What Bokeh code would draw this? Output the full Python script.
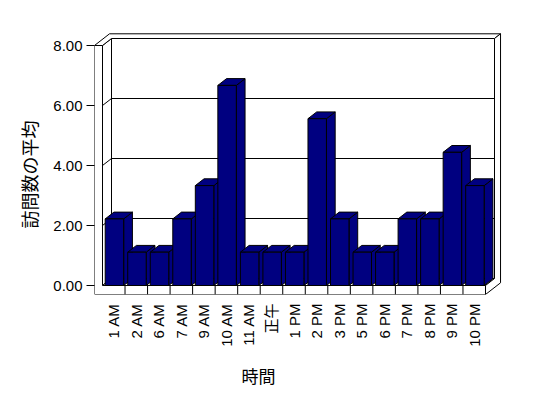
import math
from bokeh.plotting import figure
from bokeh.models import Range1d, FixedTicker, NumeralTickFormatter, Title
from bokeh.embed import file_html
from bokeh.resources import INLINE

# ---------------- data ----------------
categories = ["1 AM", "2 AM", "6 AM", "7 AM", "9 AM", "10 AM", "11 AM", "正午",
              "1 PM", "2 PM", "3 PM", "5 PM", "6 PM", "7 PM", "8 PM", "9 PM", "10 PM"]
visits = [2.22, 1.11, 1.11, 2.22, 3.33, 6.67, 1.11, 1.11, 1.11,
          5.56, 2.22, 1.11, 1.11, 2.22, 2.22, 4.44, 3.33]
y_ticks = [0, 2, 4, 6, 8]
y_title = "訪問数の平均"
x_title = "時間"

# ---------------- layout / style constants ----------------
CAT_PX = 22.53        # pixels per category
UNIT_PX = 30.0        # pixels per value unit
DEPTH_PX = (9.0, 7.0) # oblique depth offset of the box
BACK_T = 0.67         # back wall thickness (fraction of depth)
WALL_PX = 8.0         # left wall thickness
FLOOR_PX = 9.0        # floor thickness
BAR_OFF = 0.12
BAR_W = 0.82
BAR_D = 0.97
Y_MAX = 8.0
LEFT, TOP, RIGHT = 94, 31, 30
FRAME_W, FRAME_H = 408, 263
BAR_COLOR = "#000080"
FONT = "Liberation Sans, Noto Sans CJK JP"
CJK = "Noto Sans CJK JP"

N = len(categories)
DX = DEPTH_PX[0] / CAT_PX
DY = DEPTH_PX[1] / UNIT_PX
WT = WALL_PX / CAT_PX
FT = FLOOR_PX / UNIT_PX

x_start = -WT
y_start = -FT
p = figure(frame_width=FRAME_W, frame_height=FRAME_H,
           output_backend="svg", toolbar_location=None,
           x_range=Range1d(x_start, x_start + FRAME_W / CAT_PX),
           y_range=Range1d(y_start, y_start + FRAME_H / UNIT_PX),
           min_border_left=LEFT, min_border_right=RIGHT,
           min_border_top=TOP, min_border_bottom=60)
p.outline_line_color = None
p.xgrid.visible = False
p.ygrid.visible = False
p.background_fill_color = "white"
p.border_fill_color = "white"


def P(x, y, z):
    return (x + z * DX, y + z * DY)


def add(points, xs, ys):
    xs.append([pt[0] for pt in points])
    ys.append([pt[1] for pt in points])


zb = 1 + BACK_T
# back wall inner face + left wall inner face
box_xs, box_ys = [], []
add([P(0, 0, 1), P(N, 0, 1), P(N, Y_MAX, 1), P(0, Y_MAX, 1)], box_xs, box_ys)
add([P(0, 0, 0), P(0, 0, 1), P(0, Y_MAX, 1), P(0, Y_MAX, 0)], box_xs, box_ys)
p.patches(box_xs, box_ys, fill_color="white", line_color="black", line_width=1, line_join="miter")

# gridlines on walls
gx, gy = [], []
for v in y_ticks[1:-1]:
    add([P(0, v, 0), P(0, v, 1), P(N, v, 1)], gx, gy)
p.multi_line(gx, gy, line_color="black", line_width=1)

# floor top
fx, fy = [], []
add([P(0, 0, 0), P(N, 0, 0), P(N, 0, 1), P(0, 0, 1)], fx, fy)
p.patches(fx, fy, fill_color="white", line_color="black", line_width=1, line_join="miter")

# bars, painted left to right: side, top, front
bx, by = [], []
for i, v in enumerate(visits):
    x0 = i + BAR_OFF
    x1 = x0 + BAR_W
    add([P(x1, 0, 0), P(x1, 0, BAR_D), P(x1, v, BAR_D), P(x1, v, 0)], bx, by)
    add([P(x0, v, 0), P(x1, v, 0), P(x1, v, BAR_D), P(x0, v, BAR_D)], bx, by)
    add([P(x0, 0, 0), P(x1, 0, 0), P(x1, v, 0), P(x0, v, 0)], bx, by)
p.patches(bx, by, fill_color=BAR_COLOR, line_color="black", line_width=1, line_join="miter")

# top faces of walls, right face, front face
wx, wy = [], []
add([P(-WT, Y_MAX, 0), P(0, Y_MAX, 0), P(0, Y_MAX, 1), P(N, Y_MAX, 1),
     P(N, Y_MAX, zb), P(-WT, Y_MAX, zb)], wx, wy)
add([P(N, 0, 0), P(N, -FT, 0), P(N, -FT, zb), P(N, Y_MAX, zb),
     P(N, Y_MAX, 1), P(N, 0, 1)], wx, wy)
add([P(-WT, -FT, 0), P(N, -FT, 0), P(N, 0, 0), P(0, 0, 0),
     P(0, Y_MAX, 0), P(-WT, Y_MAX, 0)], wx, wy)
p.patches(wx, wy, fill_color="white", line_color="black", line_width=1, line_join="miter")

# category dividers on floor front
dvx, dvy = [], []
for k in range(1, N):
    add([(k, -FT), (k, 0)], dvx, dvy)
p.multi_line(dvx, dvy, line_color="black", line_width=1)

# axes
ya = p.yaxis[0]
ya.ticker = FixedTicker(ticks=y_ticks)
ya.formatter = NumeralTickFormatter(format="0.00")
ya.axis_line_color = None
ya.major_tick_out = 8
ya.major_tick_in = 0
ya.minor_tick_line_color = None
ya.major_tick_line_color = "black"
ya.major_label_standoff = 4
ya.major_label_text_font = FONT
ya.major_label_text_font_size = "15px"
ya.major_label_text_color = "black"

xa = p.xaxis[0]
xa.ticker = FixedTicker(ticks=[i + 0.5 for i in range(N)])
xa.major_label_overrides = {i + 0.5: c for i, c in enumerate(categories)}
xa.major_label_orientation = math.pi / 2
xa.axis_line_color = None
xa.major_tick_out = 0
xa.major_tick_in = 0
xa.minor_tick_line_color = None
xa.major_tick_line_color = None
xa.major_label_standoff = 9
xa.major_label_text_font = FONT
xa.major_label_text_font_size = "15px"
xa.major_label_text_color = "black"

# axis titles
p.add_layout(Title(text=x_title, align="left", offset=147, standoff=22,
                   text_font=CJK, text_font_size="17px", text_font_style="normal",
                   text_color="black"), "below")
p.add_layout(Title(text=y_title, align="left", offset=66, standoff=18,
                   text_font=CJK, text_font_size="18px", text_font_style="normal",
                   text_color="black"), "left")

open("out.html", "w").write(file_html(p, INLINE))
